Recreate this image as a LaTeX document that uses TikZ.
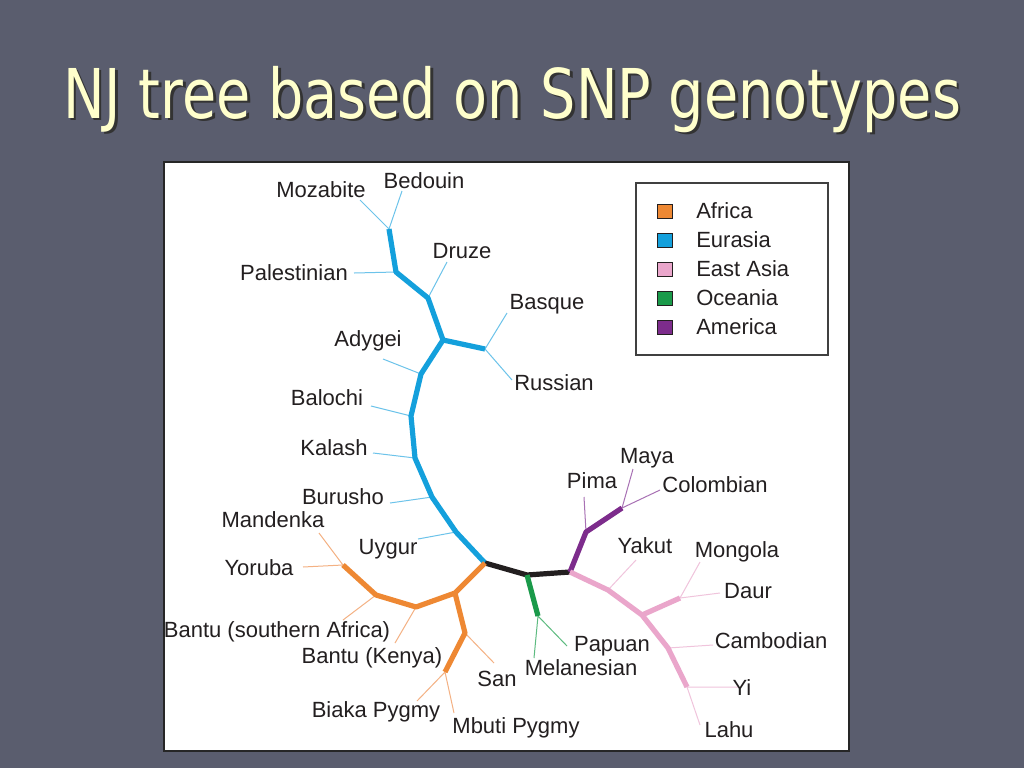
\documentclass[tikz,border=0pt]{standalone}
\usepackage{fontspec}
\setmainfont{Liberation Sans}
\newfontfamily\titlefont{DejaVu Sans}
\definecolor{bgcol}{HTML}{5A5D6E}
\definecolor{titlecol}{HTML}{FFFFCC}
\definecolor{txtcol}{HTML}{231F20}
\definecolor{afr}{HTML}{EE8833}
\definecolor{afrl}{HTML}{F4B183}
\definecolor{eur}{HTML}{14A0DC}
\definecolor{eurl}{HTML}{6CC3EA}
\definecolor{eas}{HTML}{EAA6CB}
\definecolor{easl}{HTML}{F0C4DC}
\definecolor{oce}{HTML}{1A9A4A}
\definecolor{ocel}{HTML}{5DBB80}
\definecolor{ame}{HTML}{7D2C8C}
\definecolor{amel}{HTML}{A871B4}
\definecolor{rootcol}{HTML}{231F20}
\newcommand{\titletext}{\scalebox{0.81}[1]{NJ tree based on SNP genotypes}}
\begin{document}
\begin{tikzpicture}[x=0.75pt,y=-0.75pt,
  lbl/.style={font=\fontsize{16.5}{18}\selectfont, text=txtcol, inner sep=0pt},
  br/.style={line width=3.9pt, line join=round},
  leaf/.style={line width=0.75pt},
  swatch/.style={draw=txtcol, line width=0.6pt, minimum width=11.8pt, minimum height=10.5pt, inner sep=0pt}]
% background and panel
\fill[bgcol] (0,0) rectangle (1024,768);
\node[anchor=base, font=\titlefont\fontsize{51.5}{56}\selectfont] (title) at (512,118)
  {\rlap{\raisebox{-2.2pt}{\hspace{2.2pt}\textcolor{black!80}{\titletext}}}\textcolor{titlecol}{\titletext}};
\filldraw[fill=white, draw=black!85, line width=1.6pt] (164,162) rectangle (849,751);
% legend
\draw[black!75, line width=1pt] (636,183) rectangle (828,355);
\node[swatch, fill=afr] (sAfr) at (665,211) {};
\node[swatch, fill=eur] (sEur) at (665,240) {};
\node[swatch, fill=eas] (sEas) at (665,269) {};
\node[swatch, fill=oce] (sOce) at (665,298) {};
\node[swatch, fill=ame] (sAme) at (665,327) {};
\node[lbl, anchor=west] (lAfr) at (696,211) {Africa};
\node[lbl, anchor=west] (lEur) at (696,240) {Eurasia};
\node[lbl, anchor=west] (lEas) at (696,269) {East Asia};
\node[lbl, anchor=west] (lOce) at (696,298) {Oceania};
\node[lbl, anchor=west] (lAme) at (696,327) {America};
% tree junctions
\coordinate (e1) at (389,229);
\coordinate (e2) at (396,272);
\coordinate (e3) at (428,298);
\coordinate (e4) at (443,340);
\coordinate (e5) at (485,349);
\coordinate (e6) at (421,374);
\coordinate (e7) at (411,416);
\coordinate (e8) at (415,458);
\coordinate (e9) at (432,497);
\coordinate (e10) at (456,532);
\coordinate (r0) at (485,563);
\coordinate (r1) at (527,575);
\coordinate (r2) at (570,572);
\coordinate (o1) at (538,616);
\coordinate (m1) at (586,532);
\coordinate (m2) at (622,508);
\coordinate (p1) at (608,590);
\coordinate (p2) at (642,615);
\coordinate (p3) at (680,598);
\coordinate (p4) at (668,648);
\coordinate (p5) at (687,687);
\coordinate (a1) at (455,593);
\coordinate (a2) at (416,607);
\coordinate (a3) at (376,595);
\coordinate (a4) at (343,565);
\coordinate (a5) at (465,633);
\coordinate (a6) at (445,672);
% leaf ends
\coordinate (tMoz) at (360,200);
\coordinate (tBed) at (402,191);
\coordinate (tPal) at (354,273);
\coordinate (tDru) at (447,262);
\coordinate (tBas) at (507,313);
\coordinate (tRus) at (512,380);
\coordinate (tAdy) at (383,359);
\coordinate (tBal) at (371,406);
\coordinate (tKal) at (373,453);
\coordinate (tBur) at (390,503);
\coordinate (tUyg) at (418,539);
\coordinate (tMel) at (534,658);
\coordinate (tPap) at (567,646);
\coordinate (tPim) at (584,497);
\coordinate (tMay) at (633,469);
\coordinate (tCol) at (660,490);
\coordinate (tYak) at (636,560);
\coordinate (tMon) at (700,562);
\coordinate (tDau) at (720,593);
\coordinate (tCam) at (713,645);
\coordinate (tYi) at (738,687);
\coordinate (tLah) at (700,725);
\coordinate (tMan) at (319,533);
\coordinate (tYor) at (303,567);
\coordinate (tBsa) at (343,620);
\coordinate (tBke) at (395,643);
\coordinate (tSan) at (494,663);
\coordinate (tBia) at (417,701);
\coordinate (tMbu) at (454,713);
% leaf lines
\draw[leaf, eurl] (e1) -- (tMoz) (e1) -- (tBed) (e2) -- (tPal) (e3) -- (tDru)
  (e5) -- (tBas) (e5) -- (tRus) (e6) -- (tAdy) (e7) -- (tBal) (e8) -- (tKal)
  (e9) -- (tBur) (e10) -- (tUyg);
\draw[leaf, ocel] (o1) -- (tMel) (o1) -- (tPap);
\draw[leaf, amel] (m1) -- (tPim) (m2) -- (tMay) (m2) -- (tCol);
\draw[leaf, easl] (p1) -- (tYak) (p3) -- (tMon) (p3) -- (tDau) (p4) -- (tCam)
  (p5) -- (tYi) (p5) -- (tLah);
\draw[leaf, afrl] (a4) -- (tMan) (a4) -- (tYor) (a3) -- (tBsa) (a2) -- (tBke)
  (a5) -- (tSan) (a6) -- (tBia) (a6) -- (tMbu);
% thick branches
\draw[br, eur] (e1) -- (e2) -- (e3) -- (e4) -- (e6) -- (e7) -- (e8) -- (e9) -- (e10) -- (r0);
\draw[br, eur] (e4) -- (e5);
\draw[br, rootcol] (r0) -- (r1) -- (r2);
\draw[br, oce] (r1) -- (o1);
\draw[br, ame] (r2) -- (m1) -- (m2);
\draw[br, eas] (r2) -- (p1) -- (p2) -- (p4) -- (p5);
\draw[br, eas] (p2) -- (p3);
\draw[br, afr] (r0) -- (a1) -- (a2) -- (a3) -- (a4);
\draw[br, afr] (a1) -- (a5) -- (a6);
% labels
\node[lbl] (Moz) at (321,190) {Mozabite};
\node[lbl] (Bed) at (424,181) {Bedouin};
\node[lbl] (Pal) at (294,273) {Palestinian};
\node[lbl] (Dru) at (462,251) {Druze};
\node[lbl] (Bas) at (547,304) {Basque};
\node[lbl] (Rus) at (554,383) {Russian};
\node[lbl] (Ady) at (368,341) {Adygei};
\node[lbl] (Bal) at (327,398) {Balochi};
\node[lbl] (Kal) at (334,448) {Kalash};
\node[lbl] (Bur) at (343,497) {Burusho};
\node[lbl] (Man) at (273,520) {Mandenka};
\node[lbl] (Uyg) at (388,549) {Uygur};
\node[lbl] (Yor) at (259,568) {Yoruba};
\node[lbl] (Bsa) at (277,632) {Bantu (southern Africa)};
\node[lbl] (Bke) at (372,658) {Bantu (Kenya)};
\node[lbl] (San) at (497,679) {San};
\node[lbl] (Bia) at (376,712) {Biaka Pygmy};
\node[lbl] (Mbu) at (516,728) {Mbuti Pygmy};
\node[lbl] (Mel) at (581,668) {Melanesian};
\node[lbl] (Pap) at (612,646) {Papuan};
\node[lbl] (Pim) at (592,481) {Pima};
\node[lbl] (May) at (647,458) {Maya};
\node[lbl] (Col) at (715,485) {Colombian};
\node[lbl] (Yak) at (645,546) {Yakut};
\node[lbl] (Mon) at (737,552) {Mongola};
\node[lbl] (Dau) at (748,591) {Daur};
\node[lbl] (Cam) at (771,641) {Cambodian};
\node[lbl] (Yi) at (742,688) {Yi};
\node[lbl] (Lah) at (729,730) {Lahu};
\end{tikzpicture}
\end{document}
